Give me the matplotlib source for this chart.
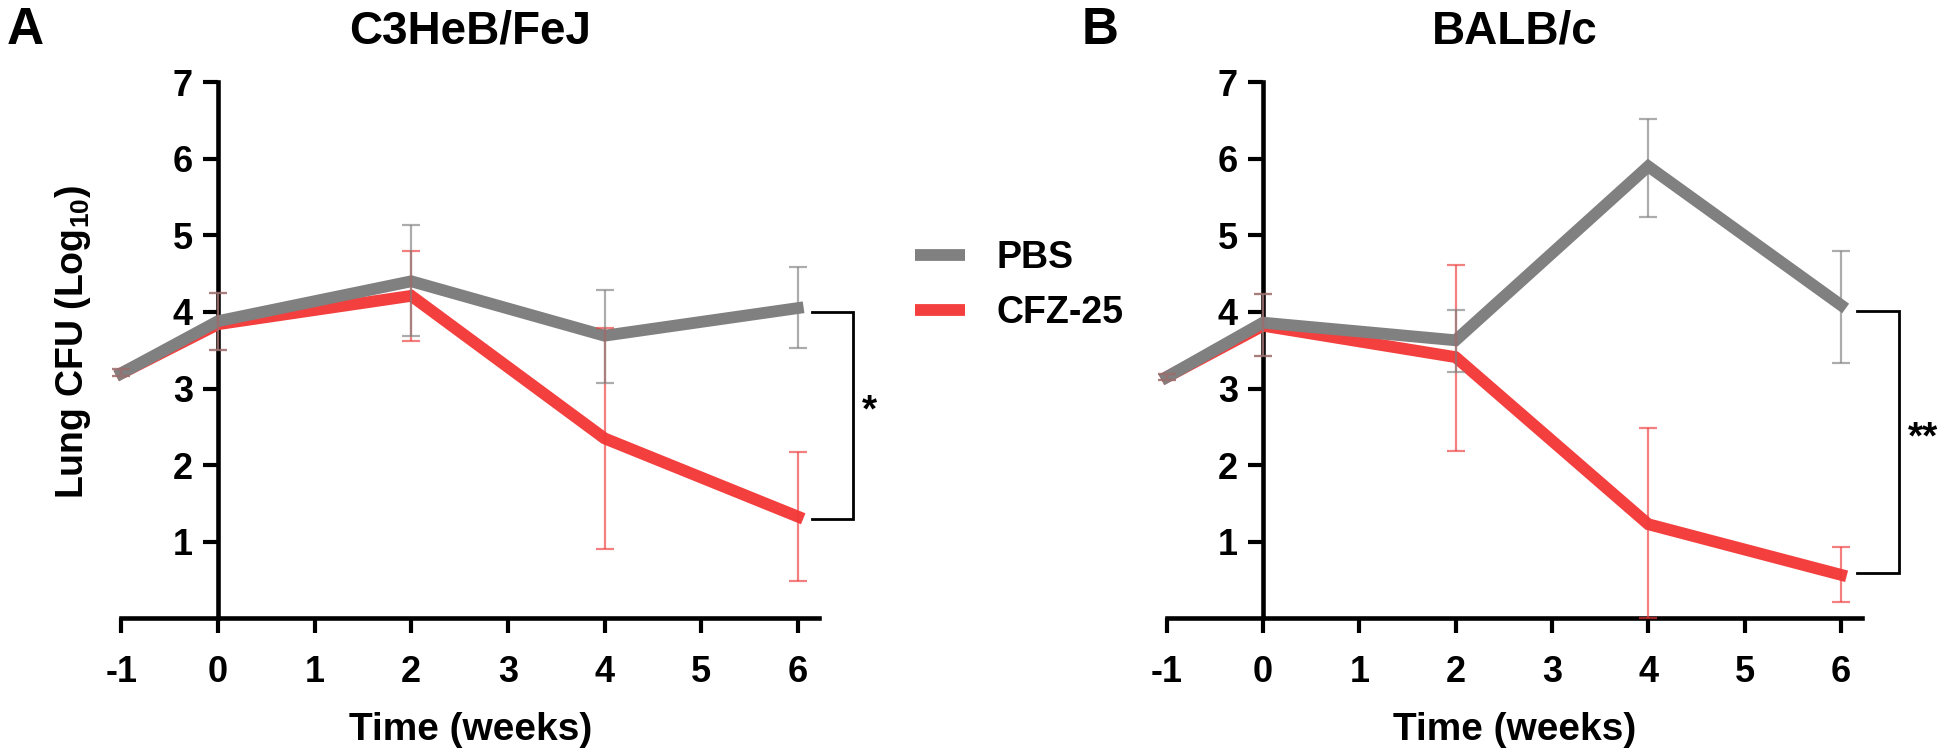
"""
Lung CFU over time, C3HeB/FeJ vs BALB/c
"""

import matplotlib
matplotlib.use('Agg')
import matplotlib.pyplot as plt
from matplotlib.lines import Line2D
import numpy as np

plt.rcParams['font.family'] = ['Liberation Sans', 'DejaVu Sans']
plt.rcParams['font.weight'] = 'bold'
plt.rcParams['axes.unicode_minus'] = False
plt.rcParams['mathtext.fontset'] = 'custom'
plt.rcParams['mathtext.rm'] = 'Liberation Sans:bold'
plt.rcParams['mathtext.bf'] = 'Liberation Sans:bold'
plt.rcParams['mathtext.default'] = 'bf'

# dados
weeks = [-1, 0, 2, 4, 6]

a_pbs = [3.20, 3.88, 4.40, 3.69, 4.05]
a_pbs_lo = [3.17, 3.50, 3.69, 3.07, 3.53]
a_pbs_hi = [3.25, 4.25, 5.13, 4.28, 4.58]
a_cfz = [3.20, 3.84, 4.21, 2.35, 1.33]
a_cfz_lo = [3.17, 3.50, 3.62, 0.91, 0.49]
a_cfz_hi = [3.25, 4.25, 4.80, 3.79, 2.17]

b_pbs = [3.15, 3.86, 3.63, 5.90, 4.09]
b_pbs_lo = [3.11, 3.42, 3.22, 5.24, 3.34]
b_pbs_hi = [3.19, 4.24, 4.03, 6.52, 4.80]
b_cfz = [3.15, 3.82, 3.41, 1.23, 0.57]
b_cfz_lo = [3.11, 3.42, 2.19, 0.00, 0.22]
b_cfz_hi = [3.19, 4.24, 4.61, 2.48, 0.93]

x_ticks = [-1, 0, 1, 2, 3, 4, 5, 6]
y_ticks = [1, 2, 3, 4, 5, 6, 7]

GRAY = '#808080'
RED = '#f43f3f'
GRAY_ERR = '#808080'
RED_ERR = '#ee3a3a'

fig = plt.figure(figsize=(19.5, 7.56), dpi=100)
axA = fig.add_axes([0.0623, 0.1819, 0.3577, 0.7096])
axB = fig.add_axes([0.5983, 0.1819, 0.3566, 0.7096])


def draw(ax, pbs, pbs_lo, pbs_hi, cfz, cfz_lo, cfz_hi):
    x = np.array(weeks)
    ax.plot(x, cfz, color=RED, lw=8.5, solid_joinstyle='miter', zorder=3, clip_on=False)
    ax.plot(x, pbs, color=GRAY, lw=8.5, solid_joinstyle='miter', zorder=3.1, clip_on=False)
    # vermelho primeiro, cinza por cima (mistura marrom onde sobrepoe)
    for y, lo, hi, c in [(cfz, cfz_lo, cfz_hi, RED_ERR), (pbs, pbs_lo, pbs_hi, GRAY_ERR)]:
        y = np.array(y)
        err = [y - np.array(lo), np.array(hi) - y]
        eb = ax.errorbar(x, y, yerr=err, fmt='none', ecolor=c, elinewidth=1.6,
                         capsize=6.5, capthick=1.6, alpha=0.65, zorder=4)
        for art in eb.lines[1] + eb.lines[2]:
            art.set_clip_on(False)

    ax.set_xlim(-1, 6.22)
    ax.set_ylim(0, 7)
    ax.set_xticks(x_ticks)
    ax.set_yticks(y_ticks)
    ax.spines['top'].set_visible(False)
    ax.spines['right'].set_visible(False)
    ax.spines['left'].set_position(('data', 0))
    for s in ['left', 'bottom']:
        ax.spines[s].set_linewidth(3.3)
    ax.tick_params(axis='both', width=3, length=11, labelsize=26, direction='out')
    ax.tick_params(axis='x', pad=15)
    ax.tick_params(axis='y', pad=7)
    ax.set_xlabel('Time (weeks)', fontsize=28, fontweight='bold')
    ax.xaxis.set_label_coords(0.5, -0.175)


draw(axA, a_pbs, a_pbs_lo, a_pbs_hi, a_cfz, a_cfz_lo, a_cfz_hi)
draw(axB, b_pbs, b_pbs_lo, b_pbs_hi, b_cfz, b_cfz_lo, b_cfz_hi)

axA.set_title('C3HeB/FeJ', fontsize=33, fontweight='bold', pad=28)
axB.set_title('BALB/c', fontsize=33, fontweight='bold', pad=28)

axA.set_ylabel('Lung CFU (Log$_{10}$)', fontsize=27, fontweight='bold', va='center')
axA.yaxis.set_label_coords(-0.0695, 0.515)

# colchetes de significancia
def bracket(ax, x0, x1, y_top, y_bot, txt, tx):
    ax.plot([x0, x1, x1, x0], [y_top, y_top, y_bot, y_bot], color='black',
            lw=2, clip_on=False, solid_joinstyle='miter')
    ax.text(tx, (y_top + y_bot) / 2 + 0.05, txt, fontsize=28, fontweight='bold',
            ha='left', va='center')


bracket(axA, 6.15, 6.57, 4.00, 1.30, '*', 6.66)
bracket(axB, 6.17, 6.60, 4.01, 0.59, '**', 6.70)

fig.text(7 / 1950, 1 - 44 / 756, 'A', fontsize=37, fontweight='bold', ha='left', va='baseline')
fig.text(1082 / 1950, 1 - 44 / 756, 'B', fontsize=37, fontweight='bold', ha='left', va='baseline')

handles = [Line2D([], [], color=GRAY, lw=8.5, solid_capstyle='butt'),
           Line2D([], [], color=RED, lw=8.5, solid_capstyle='butt')]
fig.legend(handles, ['PBS', 'CFZ-25'], loc='upper left', bbox_to_anchor=(0.4692, 0.683),
           frameon=False, fontsize=27, handlelength=1.33, handletextpad=0.85,
           labelspacing=0.525, borderpad=0, borderaxespad=0)

fig.savefig('out.png', dpi=100)
